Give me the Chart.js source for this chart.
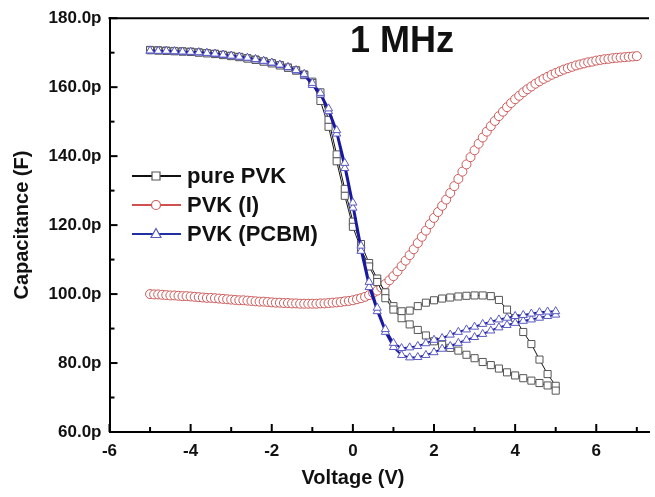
<!DOCTYPE html>
<html>
<head>
<meta charset="utf-8">
<script src="https://cdn.jsdelivr.net/npm/chart.js@4.4.1/dist/chart.umd.min.js"></script>
<style>
  html, body { margin: 0; padding: 0; background: #fff; }
  canvas { display: block; }
</style>
</head>
<body>
<canvas id="cvChart" width="655" height="497"></canvas>
<script>
// Sweep voltages of the two hysteresis loops (V)
const sweepV = [
    -5.0, -4.8, -4.6, -4.4, -4.2, -4.0, -3.8, -3.6, -3.4, -3.2,
    -3.0, -2.8, -2.6, -2.4, -2.2, -2.0, -1.8, -1.6, -1.4, -1.2,
    -1.0, -0.8, -0.6, -0.4, -0.2, 0.0, 0.2, 0.4, 0.6, 0.8,
    1.0, 1.2, 1.4, 1.6, 1.8, 2.0, 2.2, 2.4, 2.6, 2.8,
    3.0, 3.2, 3.4, 3.6, 3.8, 4.0, 4.2, 4.4, 4.6, 4.8,
    5.0
];

// pure PVK (pF): forward sweep, and return sweep listed by ascending V
const pvkUp = [
    170.8, 170.7, 170.6, 170.5, 170.4, 170.3, 170.1, 169.9, 169.7, 169.4,
    169.1, 168.8, 168.4, 168.0, 167.5, 167.0, 166.4, 165.7, 164.9, 163.7,
    161.6, 158.5, 150.5, 140.5, 130.5, 121.0, 114.5, 109.0, 104.5, 100.5,
    96.5, 95.0, 95.2, 96.5, 97.5, 98.2, 98.7, 99.0, 99.3, 99.5,
    99.6, 99.6, 99.4, 98.3, 95.5, 93.0, 89.0, 85.5, 81.0, 76.8,
    73.4
];
const pvkDown = [
    170.7, 170.6, 170.5, 170.4, 170.3, 170.2, 170.0, 169.8, 169.6, 169.3,
    169.0, 168.7, 168.3, 167.9, 167.4, 166.9, 166.3, 165.6, 164.8, 163.5,
    161.2, 156.0, 148.5, 138.5, 128.5, 119.5, 113.0, 108.0, 103.5, 98.8,
    95.5, 93.0, 91.2, 89.6, 88.0, 86.3, 85.3, 84.4, 83.6, 82.4,
    81.4, 80.3, 79.4, 78.4, 77.3, 76.4, 75.6, 74.9, 74.2, 73.5,
    72.0
];

// PVK (PCBM) (pF)
const pcbmUp = [
    170.5, 170.5, 170.4, 170.3, 170.2, 170.1, 170.0, 169.8, 169.6, 169.3,
    169.0, 168.7, 168.4, 168.0, 167.5, 167.0, 166.4, 165.7, 164.8, 163.4,
    160.6, 157.8, 153.0, 146.5, 136.5, 125.0, 112.5, 102.0, 95.0, 89.0,
    84.6, 82.3, 81.6, 81.7, 82.3, 83.1, 84.1, 84.9, 85.8, 86.7,
    87.5, 88.4, 89.4, 90.3, 91.0, 91.6, 92.2, 92.6, 93.1, 93.6,
    94.0
];
const pcbmDown = [
    170.6, 170.5, 170.5, 170.4, 170.3, 170.2, 170.1, 169.9, 169.7, 169.4,
    169.1, 168.8, 168.5, 168.1, 167.6, 167.1, 166.5, 165.8, 164.9, 163.8,
    161.2, 158.3, 153.8, 147.5, 138.0, 126.5, 114.0, 103.5, 96.0, 89.8,
    85.8, 84.3, 84.5, 84.9, 85.7, 86.7, 87.2, 88.2, 89.0, 89.7,
    90.5, 91.3, 91.9, 92.6, 93.1, 93.6, 93.9, 94.3, 94.7, 94.9,
    95.0
];

// PVK (I): single sweep -5 V .. 7 V
const iodV = [
    -5.0, -4.9, -4.8, -4.7, -4.6, -4.5, -4.4, -4.3, -4.2, -4.1,
    -4.0, -3.9, -3.8, -3.7, -3.6, -3.5, -3.4, -3.3, -3.2, -3.1,
    -3.0, -2.9, -2.8, -2.7, -2.6, -2.5, -2.4, -2.3, -2.2, -2.1,
    -2.0, -1.9, -1.8, -1.7, -1.6, -1.5, -1.4, -1.3, -1.2, -1.1,
    -1.0, -0.9, -0.8, -0.7, -0.6, -0.5, -0.4, -0.3, -0.2, -0.1,
    0.0, 0.1, 0.2, 0.3, 0.4, 0.5, 0.6, 0.7, 0.8, 0.9,
    1.0, 1.1, 1.2, 1.3, 1.4, 1.5, 1.6, 1.7, 1.8, 1.9,
    2.0, 2.1, 2.2, 2.3, 2.4, 2.5, 2.6, 2.7, 2.8, 2.9,
    3.0, 3.1, 3.2, 3.3, 3.4, 3.5, 3.6, 3.7, 3.8, 3.9,
    4.0, 4.1, 4.2, 4.3, 4.4, 4.5, 4.6, 4.7, 4.8, 4.9,
    5.0, 5.1, 5.2, 5.3, 5.4, 5.5, 5.6, 5.7, 5.8, 5.9,
    6.0, 6.1, 6.2, 6.3, 6.4, 6.5, 6.6, 6.7, 6.8, 6.9,
    7.0
];
const iodC = [
    100.0, 99.9, 99.9, 99.8, 99.7, 99.6, 99.6, 99.5, 99.4, 99.4,
    99.3, 99.2, 99.1, 99.0, 98.9, 98.9, 98.8, 98.7, 98.6, 98.5,
    98.4, 98.3, 98.2, 98.2, 98.1, 98.0, 97.9, 97.8, 97.8, 97.7,
    97.6, 97.5, 97.5, 97.4, 97.4, 97.3, 97.3, 97.2, 97.2, 97.2,
    97.2, 97.2, 97.3, 97.3, 97.4, 97.5, 97.6, 97.7, 97.9, 98.0,
    98.2, 98.5, 98.8, 99.2, 99.7, 100.3, 101.0, 101.9, 102.9, 104.0,
    105.2, 106.6, 108.1, 109.7, 111.3, 113.0, 114.8, 116.6, 118.4, 120.3,
    122.1, 123.8, 125.6, 127.4, 129.3, 131.3, 133.4, 135.5, 137.6, 139.7,
    141.7, 143.6, 145.4, 147.1, 148.7, 150.2, 151.6, 152.9, 154.2, 155.4,
    156.5, 157.5, 158.5, 159.4, 160.2, 161.0, 161.7, 162.4, 163.0, 163.6,
    164.1, 164.6, 165.1, 165.5, 165.9, 166.3, 166.6, 166.9, 167.2, 167.4,
    167.7, 167.9, 168.1, 168.2, 168.4, 168.5, 168.6, 168.7, 168.8, 168.9,
    169.0
];

// Labelled ticks
const xLabelled = [-6, -4, -2, 0, 2, 4, 6];
const yLabelled = [60, 80, 100, 120, 140, 160, 180];

const FONT = "'Liberation Sans', Arial, Helvetica, sans-serif";
Chart.defaults.font.family = FONT;
Chart.defaults.color = '#111';

// forward sweep followed by the return sweep
function loop(up, down) {
    const pts = sweepV.map((v, i) => ({ x: v, y: up[i] }));
    for (let i = sweepV.length - 1; i >= 0; i--) {
        pts.push({ x: sweepV[i], y: down[i] });
    }
    return pts;
}

const series = [
    {
        label: 'pure PVK',
        data: loop(pvkUp, pvkDown),
        showLine: true,
        borderColor: '#111',
        borderWidth: 1,
        pointStyle: 'rect',
        pointRadius: 5,
        pointBorderColor: '#555',
        pointBorderWidth: 1,
        pointBackgroundColor: '#fff',
        order: 1
    },
    {
        label: 'PVK (I)',
        data: iodV.map((v, i) => ({ x: v, y: iodC[i] })),
        showLine: true,
        borderColor: '#c83c3c',
        borderWidth: 1,
        pointStyle: 'circle',
        pointRadius: 4.5,
        pointBorderColor: '#cc5a5a',
        pointBorderWidth: 1,
        pointBackgroundColor: '#fff',
        order: 2
    },
    {
        label: 'PVK (PCBM)',
        data: loop(pcbmUp, pcbmDown),
        showLine: true,
        borderColor: '#1818a0',
        borderWidth: 2,
        pointStyle: 'triangle',
        pointRadius: 4.7,
        pointBorderColor: '#5a5ac4',
        pointBorderWidth: 1,
        pointBackgroundColor: '#fff',
        order: 0
    }
];

// inward ticks, top frame line, legend and labels
const decorations = {
    id: 'decorations',
    afterDraw(chart) {
        const { ctx, chartArea: a, scales: { x, y } } = chart;
        ctx.save();
        ctx.strokeStyle = '#000';
        ctx.lineWidth = 2;

        ctx.beginPath();
        ctx.moveTo(a.left - 1, a.top);
        ctx.lineTo(a.right, a.top);
        ctx.stroke();

        x.ticks.forEach(t => {
            const px = x.getPixelForValue(t.value);
            const len = xLabelled.includes(t.value) ? 8 : 5;
            ctx.beginPath();
            ctx.moveTo(px, a.bottom);
            ctx.lineTo(px, a.bottom - len);
            ctx.stroke();
        });
        y.ticks.forEach(t => {
            const py = y.getPixelForValue(t.value);
            const len = yLabelled.includes(t.value) ? 8 : 5;
            ctx.beginPath();
            ctx.moveTo(a.left, py);
            ctx.lineTo(a.left + len, py);
            ctx.stroke();
        });

        // legend: line sample with its marker, in dataset order
        const rows = [176, 205, 234];
        const lineColors = ['#111', '#d05050', '#2030a0'];
        series.forEach((s, i) => {
            const cy = rows[i];
            ctx.strokeStyle = lineColors[i];
            ctx.lineWidth = 2;
            ctx.beginPath();
            ctx.moveTo(132, cy);
            ctx.lineTo(181, cy);
            ctx.stroke();

            ctx.fillStyle = '#fff';
            ctx.strokeStyle = s.pointBorderColor;
            ctx.lineWidth = 1.2;
            ctx.beginPath();
            if (s.pointStyle === 'rect') {
                ctx.rect(152, cy - 4, 8, 8);
            } else if (s.pointStyle === 'circle') {
                ctx.arc(156, cy, 4.5, 0, Math.PI * 2);
            } else {
                ctx.moveTo(156, cy - 5.5);
                ctx.lineTo(161, cy + 3.5);
                ctx.lineTo(151, cy + 3.5);
                ctx.closePath();
            }
            ctx.fill();
            ctx.stroke();

            ctx.fillStyle = '#111';
            ctx.font = 'bold 22px ' + FONT;
            ctx.textAlign = 'left';
            ctx.textBaseline = 'middle';
            ctx.fillText(s.label, 187, cy + 1);
        });

        ctx.fillStyle = '#111';
        ctx.font = 'bold 20px ' + FONT;
        ctx.textAlign = 'center';
        ctx.textBaseline = 'middle';
        ctx.fillText('Voltage (V)', 353, 478);

        ctx.font = 'bold 36px ' + FONT;
        ctx.textAlign = 'left';
        ctx.textBaseline = 'alphabetic';
        ctx.fillText('1 MHz', 350, 52);
        ctx.restore();
    }
};

new Chart(document.getElementById('cvChart'), {
    type: 'scatter',
    data: { datasets: series },
    options: {
        responsive: false,
        animation: false,
        layout: { padding: { top: 17, left: 0, right: 0, bottom: 0 } },
        plugins: {
            legend: { display: false },
            tooltip: { enabled: false }
        },
        scales: {
            x: {
                type: 'linear',
                min: -6,
                max: 7.3,
                grid: { display: false, drawTicks: false },
                border: { display: true, color: '#000', width: 2 },
                ticks: {
                    stepSize: 1,
                    includeBounds: false,
                    autoSkip: false,
                    maxRotation: 0,
                    padding: 9,
                    font: { size: 17, weight: 'bold' },
                    callback: v => xLabelled.includes(v) ? String(v) : ''
                },
                afterFit: scale => { scale.height = 65; }
            },
            y: {
                type: 'linear',
                min: 60,
                max: 180,
                grid: { display: false, drawTicks: false },
                border: { display: true, color: '#000', width: 2 },
                ticks: {
                    stepSize: 10,
                    autoSkip: false,
                    padding: 8,
                    font: { size: 17, weight: 'bold' },
                    callback: v => yLabelled.includes(v) ? v.toFixed(1) + 'p' : ''
                },
                title: {
                    display: true,
                    text: 'Capacitance (F)',
                    font: { size: 20, weight: 'bold' },
                    padding: { top: 10, bottom: 0 }
                },
                afterFit: scale => { scale.width = 109.5; }
            }
        }
    },
    plugins: [decorations]
});
</script>
</body>
</html>
